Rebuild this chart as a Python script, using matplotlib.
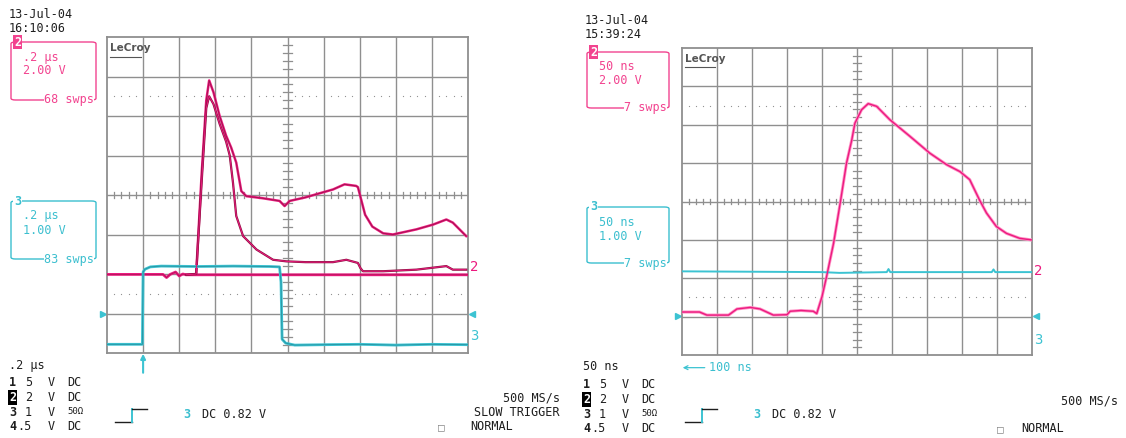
import numpy as np
import matplotlib
matplotlib.use("Agg")
import matplotlib.pyplot as plt
from matplotlib.lines import Line2D
from matplotlib.patches import FancyBboxPatch

# Colors
C_PINK  = "#ec1a7f"
C_MAROON = "#8a1240"
C_PINK_L = "#ff8fc4"
C_CYAN  = "#3cc3d2"
C_TEAL  = "#10606c"
C_GRID  = "#8f8f8f"
C_TEXT  = "#1e1e1e"
C_PTXT  = "#f2438f"
C_CTXT  = "#3bbfcf"

W, H = 1126, 438
MONO = "DejaVu Sans Mono"

# ---- data (x in divisions 0..10, y in divisions -4..4) ----
# left scope: ch2 (2 V/div) and ch3 (1 V/div), .2 us/div
l_base_x = [0.0, 1.55, 1.65, 1.75, 1.9, 2.0, 2.1, 2.2, 10.0]
l_base_y = [-2.01, -2.01, -2.09, -2.01, -1.95, -2.05, -2.0, -2.02, -2.02]

l_hi_x = [2.2, 2.47, 2.62, 2.75, 2.83, 2.95, 3.12, 3.3, 3.44, 3.58, 3.72, 3.86,
          4.3, 4.78, 4.92, 5.06, 5.5, 5.8, 6.26, 6.58, 6.9, 6.95, 7.05, 7.15,
          7.35, 7.65, 7.92, 8.57, 9.03, 9.4, 9.58, 9.95]
l_hi_y = [-2.02, -2.0, 0.5, 2.4, 2.9, 2.6, 2.0, 1.5, 1.2, 0.82, 0.1, -0.03,
          -0.08, -0.15, -0.28, -0.15, -0.06, 0.02, 0.14, 0.27, 0.23, 0.2, -0.15, -0.5,
          -0.8, -0.97, -1.0, -0.87, -0.75, -0.62, -0.7, -1.04]

l_lo_x = [2.2, 2.47, 2.62, 2.75, 2.83, 2.95, 3.12, 3.3, 3.4, 3.49, 3.58, 3.77,
          4.14, 4.6, 4.97, 5.5, 6.26, 6.63, 6.95, 7.02, 7.09, 7.65, 8.57, 9.4,
          9.58, 9.95]
l_lo_y = [-2.02, -2.0, 0.3, 2.2, 2.5, 2.3, 1.8, 1.35, 1.0, 0.31, -0.53, -1.04,
          -1.38, -1.64, -1.68, -1.7, -1.7, -1.64, -1.72, -1.85, -1.93, -1.93, -1.89, -1.8,
          -1.89, -1.89]

l_ch3_x = [0.0, 0.98, 1.0, 1.05, 1.2, 1.5, 2.5, 3.5, 4.5, 4.78, 4.82, 4.85,
           4.95, 5.2, 6.0, 7.0, 8.0, 9.0, 10.0]
l_ch3_y = [-3.78, -3.78, -1.95, -1.88, -1.82, -1.8, -1.81, -1.8, -1.81, -1.82, -2.2, -3.65,
           -3.75, -3.8, -3.79, -3.78, -3.8, -3.78, -3.79]

# right scope: 50 ns/div
r_ch2_x = [0.0, 0.5, 0.71, 1.33, 1.57, 1.95, 2.23, 2.61, 3.0, 3.09, 3.4, 3.75,
           3.85, 4.0, 4.13, 4.33, 4.52, 4.7, 4.85, 4.94, 5.13, 5.32, 5.56, 5.94,
           6.51, 7.08, 7.56, 7.94, 8.22, 8.5, 8.7, 8.98, 9.27, 9.65, 9.98]
r_ch2_y = [-2.88, -2.88, -2.96, -2.96, -2.8, -2.76, -2.8, -2.96, -2.95, -2.86, -2.84, -2.86,
           -2.92, -2.48, -1.96, -1.09, -0.04, 1.0, 1.6, 2.04, 2.39, 2.55, 2.48, 2.13,
           1.7, 1.26, 0.96, 0.78, 0.57, 0.04, -0.3, -0.65, -0.83, -0.96, -1.0]

r_ch3_x = [0.0, 4.0, 4.5, 5.85, 5.9, 5.95, 8.85, 8.9, 8.95, 10.0]
r_ch3_y = [-1.82, -1.84, -1.86, -1.84, -1.76, -1.84, -1.84, -1.77, -1.84, -1.84]

# text
dates = ["13-Jul-04", "13-Jul-04"]
times = ["16:10:06", "15:39:24"]
timebase = [".2 µs", "50 ns"]
ch2_sweeps = ["68 swps", "7 swps"]
ch3_sweeps = ["83 swps", "7 swps"]
chan_rows = [("1", "5", "V", "DC"), ("2", "2", "V", "DC"),
             ("3", "1", "V", "50Ω"), ("4", ".5", "V", "DC")]


def fx(x):
    return x / W


def fy(y):
    return 1 - y / H


def ftext(fig, x, y, s, **kw):
    kw.setdefault("family", MONO)
    kw.setdefault("fontsize", 8.5)
    kw.setdefault("color", C_TEXT)
    kw.setdefault("va", "center")
    return fig.text(fx(x), fy(y), s, **kw)


def fline(fig, xs, ys, color, lw=1.0):
    fig.add_artist(Line2D([fx(v) for v in xs], [fy(v) for v in ys],
                          transform=fig.transFigure, color=color, lw=lw))


def draw_graticule(ax):
    ax.set_xlim(0, 10)
    ax.set_ylim(-4, 4)
    ax.set_xticks([])
    ax.set_yticks([])
    for s in ax.spines.values():
        s.set_color(C_GRID)
        s.set_linewidth(1.3)
    for i in range(1, 10):
        ax.axvline(i, color=C_GRID, lw=1.0, zorder=1)
    for j in range(-3, 4):
        ax.axhline(j, color=C_GRID, lw=1.0, zorder=1)
    # minor ticks on centre lines
    tx = [v for v in np.arange(0.2, 10, 0.2) if abs(v - round(v)) > 1e-6]
    for v in tx:
        ax.plot([v, v], [-0.07, 0.07], color=C_GRID, lw=0.9, zorder=1)
    ty = [v for v in np.arange(-3.8, 4, 0.2) if abs(v - round(v)) > 1e-6]
    for v in ty:
        ax.plot([4.88, 5.12], [v, v], color=C_GRID, lw=0.9, zorder=1)
    # dotted reference lines
    dx = [i + 0.2 * k for i in range(10) for k in range(1, 5)]
    for yv in (2.5, -2.5):
        ax.scatter(dx, [yv] * len(dx), s=0.8, color=C_GRID, zorder=1, linewidths=0)
    ax.text(0.08, 3.72, "LeCroy", family="DejaVu Sans", fontsize=7.5,
            fontweight="bold", color="#555555", va="center", ha="left")
    ax.plot([0.08, 0.95], [3.5, 3.5], color="#555555", lw=0.8)


def draw_side_box(fig, x0, y0, x1, y1, color, tag, tagbg, line1, line2, swps):
    box = FancyBboxPatch((fx(x0), fy(y1)), fx(x1 - x0), fy(y0) - fy(y1),
                         boxstyle="round,pad=0,rounding_size=0.004",
                         transform=fig.transFigure, fill=False, ec=color, lw=1.0)
    fig.add_artist(box)
    if tagbg:
        ftext(fig, x0 + 3, y0, tag, color="white", fontweight="bold",
              bbox=dict(facecolor=color, edgecolor="none", pad=0.6))
    else:
        ftext(fig, x0 + 3, y0, tag, color=color, fontweight="bold",
              bbox=dict(facecolor="white", edgecolor="none", pad=0.4))
    ftext(fig, x0 + 12, y0 + 15, line1, color=color)
    ftext(fig, x0 + 12, y0 + 29, line2, color=color)
    ftext(fig, x1 - 2, y1, swps, color=color, ha="right",
          bbox=dict(facecolor="white", edgecolor="none", pad=0.3))


def draw_footer(fig, x0, y0, tb):
    ftext(fig, x0, y0, tb)
    for k, (n, v, u, c) in enumerate(chan_rows):
        yy = y0 + 18 + k * 14.5
        if n == "2":
            ftext(fig, x0, yy, n, color="white", fontweight="bold",
                  bbox=dict(facecolor="black", edgecolor="none", pad=0.4))
        else:
            ftext(fig, x0, yy, n, fontweight="bold")
        ftext(fig, x0 + 23, yy, v, ha="right")
        ftext(fig, x0 + 39, yy, u)
        ftext(fig, x0 + 58, yy, c, fontsize=8.5 if c == "DC" else 6.5)


def draw_trigger(fig, x0, y0):
    fline(fig, [x0, x0 + 17], [y0 + 13, y0 + 13], C_TEXT)
    fline(fig, [x0 + 17, x0 + 17], [y0 + 13, y0], C_CYAN, lw=1.4)
    fline(fig, [x0 + 17, x0 + 32], [y0, y0], C_TEXT)
    ftext(fig, x0 + 68, y0 + 5, "3", color=C_CTXT, fontweight="bold")
    ftext(fig, x0 + 87, y0 + 5, "DC 0.82 V")


fig = plt.figure(figsize=(W / 100, H / 100), dpi=100, facecolor="white")

# ---- left scope ----
axl = fig.add_axes([fx(107), fy(353), fx(468 - 107), fy(37) - fy(353)])
draw_graticule(axl)
axl.plot(l_base_x, l_base_y, color=C_PINK, lw=2.0, zorder=3)
axl.plot(l_base_x, l_base_y, color=C_MAROON, lw=0.5, alpha=0.7, zorder=3)
axl.plot(l_hi_x, l_hi_y, color=C_PINK, lw=1.8, zorder=3)
axl.plot(l_hi_x, l_hi_y, color=C_MAROON, lw=0.6, alpha=0.8, zorder=4)
axl.plot(l_lo_x, l_lo_y, color=C_MAROON, lw=1.6, zorder=3)
axl.plot(l_lo_x, l_lo_y, color=C_PINK, lw=0.7, zorder=4)
axl.plot(l_ch3_x, l_ch3_y, color=C_CYAN, lw=2.0, zorder=3)
axl.plot(l_ch3_x, l_ch3_y, color=C_TEAL, lw=0.6, alpha=0.5, zorder=3)
axl.text(10.05, -1.83, "2", color=C_PINK, family=MONO, fontsize=10, va="center")
axl.text(10.05, -3.56, "3", color=C_CYAN, family=MONO, fontsize=10, va="center")
for xm, mk in ((-0.12, ">"), (10.12, "<")):
    axl.plot([xm], [-3.0], marker=mk, color=C_CYAN, ms=4, clip_on=False)
axl.annotate("", xy=(1.0, -4.02), xytext=(1.0, -4.5), annotation_clip=False,
             arrowprops=dict(arrowstyle="-|>", color=C_CYAN, lw=1.5,
                             mutation_scale=7, shrinkA=0, shrinkB=0))

ftext(fig, 9, 14, dates[0])
ftext(fig, 9, 28, times[0])
draw_side_box(fig, 11, 42, 96, 100, C_PTXT, "2", True, ".2 µs", "2.00 V", ch2_sweeps[0])
draw_side_box(fig, 11, 201, 96, 259, C_CTXT, "3", False, ".2 µs", "1.00 V", ch3_sweeps[0])
draw_footer(fig, 9, 365, timebase[0])
draw_trigger(fig, 115, 409)
ftext(fig, 560, 398, "500 MS/s", ha="right")
ftext(fig, 560, 413, "SLOW TRIGGER", ha="right")
ftext(fig, 438, 427, "□", color="#888888", fontsize=8)
ftext(fig, 470, 427, "NORMAL")

# ---- right scope ----
axr = fig.add_axes([fx(682), fy(355), fx(1032 - 682), fy(48) - fy(355)])
draw_graticule(axr)
axr.plot(r_ch2_x, r_ch2_y, color=C_PINK_L, lw=2.2, zorder=3)
axr.plot(r_ch2_x, r_ch2_y, color=C_PINK, lw=1.0, zorder=4)
axr.plot(r_ch3_x, r_ch3_y, color=C_CYAN, lw=1.4, zorder=3)
axr.text(10.05, -1.81, "2", color=C_PINK, family=MONO, fontsize=10, va="center")
axr.text(10.05, -3.6, "3", color=C_CYAN, family=MONO, fontsize=10, va="center")
for xm, mk in ((-0.12, ">"), (10.12, "<")):
    axr.plot([xm], [-2.98], marker=mk, color=C_CYAN, ms=4, clip_on=False)
axr.annotate("", xy=(0.02, -4.33), xytext=(0.65, -4.33), annotation_clip=False,
             arrowprops=dict(arrowstyle="->", color=C_CYAN, lw=0.9,
                             mutation_scale=7, shrinkA=0, shrinkB=0))
axr.text(0.78, -4.33, "100 ns", color=C_CTXT, family=MONO, fontsize=8.5, va="center")

ftext(fig, 585, 20, dates[1])
ftext(fig, 585, 34, times[1])
draw_side_box(fig, 587, 52, 669, 108, C_PTXT, "2", True, "50 ns", "2.00 V", ch2_sweeps[1])
draw_side_box(fig, 587, 207, 669, 263, C_CTXT, "3", False, "50 ns", "1.00 V", ch3_sweeps[1])
draw_footer(fig, 583, 367, timebase[1])
draw_trigger(fig, 685, 409)
ftext(fig, 1118, 401, "500 MS/s", ha="right")
ftext(fig, 997, 429, "□", color="#888888", fontsize=8)
ftext(fig, 1021, 429, "NORMAL")

fig.savefig("out.png", dpi=100, facecolor="white")
